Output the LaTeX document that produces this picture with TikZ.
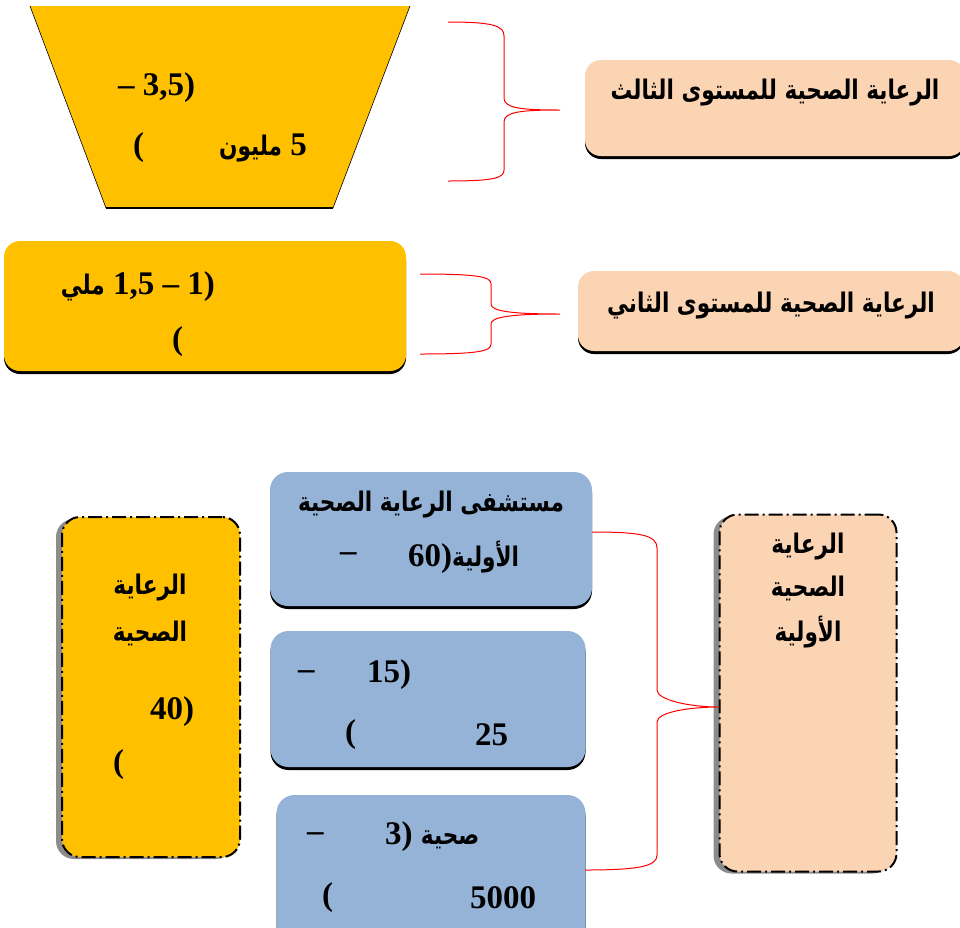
\documentclass[tikz,border=0pt]{standalone}
\usepackage{fontspec}
\setmainfont{Liberation Serif}
\newfontfamily\arabicfont[Script=Arabic, FakeStretch=0.8]{DejaVu Sans}
\TeXXeTstate=1
\usetikzlibrary{shadows}

\definecolor{ambar}{HTML}{FFC000}
\definecolor{peach}{HTML}{FBD4B4}
\definecolor{steel}{HTML}{95B3D7}

\newcommand{\ar}[1]{{\fontsize{27}{32}\selectfont\arabicfont\bfseries\beginR #1\endR}}

\tikzset{
  txt/.style={inner sep=0pt, font=\fontsize{33}{38}\selectfont\bfseries},
  head/.style={inner sep=0pt},
  levelbox/.style={rectangle, rounded corners=16pt, fill=peach, inner sep=0pt,
    drop shadow={shadow xshift=0pt, shadow yshift=-3pt, opacity=1, fill=black}},
  yellowbox/.style={rectangle, rounded corners=16pt, fill=ambar, inner sep=0pt,
    drop shadow={shadow xshift=0pt, shadow yshift=-3pt, opacity=1, fill=black}},
  bluebox/.style={rectangle, rounded corners=18pt, fill=steel, inner sep=0pt,
    drop shadow={shadow xshift=0pt, shadow yshift=-3pt, opacity=1, fill=black}},
  dashbox/.style={rectangle, rounded corners=18pt, draw=black, line width=2pt,
    dash pattern=on 14pt off 4pt on 2pt off 4pt, inner sep=0pt,
    drop shadow={shadow xshift=-6pt, shadow yshift=-2pt, opacity=1, fill=black!45}},
  brace/.style={draw=red, line width=1pt}
}

\begin{document}
\begin{tikzpicture}[x=1pt, y=-1pt]
\useasboundingbox (0,0) rectangle (960,927);

% top level: funnel and brace
\fill[ambar] (30,6) -- (410,6) -- (333,208) -- (106,208) -- cycle;
\draw[line width=0.6pt] (30,6) -- (106,208);
\draw[line width=0.6pt] (410,6) -- (333,208);
\draw[line width=2.5pt] (106,208) -- (333,208);
\node (trapA) at (118,88) [txt, anchor=west] {– 3,5)};
\node (trapB) at (133,148) [txt, anchor=west] {(};
\node (trapC) at (307,148) [txt, anchor=east] {\ar{مليون} 5};

\node (third) at (775,108) [levelbox, minimum width=380pt, minimum height=96pt] {};
\node (thirdtxt) at (775,93) [head] {\ar{الرعاية الصحية للمستوى الثالث}};

\coordinate (b1s) at (448,22);
\coordinate (b1t) at (560,110);
\coordinate (b1e) at (448,181);
\draw[brace] (b1s) .. controls (494,22) and (504,26) .. (504,36) -- (504,98)
  .. controls (504,108) and (520,110) .. (b1t)
  .. controls (520,110) and (504,112) .. (504,122) -- (504,170)
  .. controls (504,178) and (494,181) .. (b1e);

% second level
\node (second) at (205,306) [yellowbox, minimum width=402pt, minimum height=130pt] {};
\node (secA) at (215,287) [txt, anchor=east] {\ar{ملي} 1,5 – 1)};
\node (secB) at (172,342) [txt, anchor=west] {(};

\node (lvltwo) at (771,311) [levelbox, minimum width=386pt, minimum height=80pt] {};
\node (lvltwotxt) at (771,306) [head] {\ar{الرعاية الصحية للمستوى الثاني}};

\coordinate (b2s) at (420,274);
\coordinate (b2t) at (560,314);
\coordinate (b2e) at (420,354);
\draw[brace] (b2s) .. controls (480,274) and (491,277) .. (491,284) -- (491,304)
  .. controls (491,311) and (510,314) .. (b2t)
  .. controls (510,314) and (491,317) .. (491,324) -- (491,344)
  .. controls (491,351) and (480,354) .. (b2e);

% first level
\node (rest) at (151,687) [dashbox, fill=ambar, minimum width=178pt, minimum height=340pt] {};
\node (restA) at (150,588) [txt] {\ar{الرعاية}};
\node (restB) at (150,633) [txt] {\ar{الصحية}};
\node (restC) at (150,712) [txt, anchor=west] {40)};
\node (restD) at (113,765) [txt, anchor=west] {(};

\node (hosp) at (431,539) [bluebox, minimum width=322pt, minimum height=134pt] {};
\node (hospA) at (431,505) [txt] {\ar{مستشفى الرعاية الصحية}};
\node (hospB) at (340,557) [txt, anchor=west] {–};
\node (hospC) at (408,557) [txt, anchor=west] {60)\ar{الأولية}};

\node (cent) at (428,699) [bluebox, minimum width=315pt, minimum height=136pt] {};
\node (centA) at (298,675) [txt, anchor=west] {–};
\node (centB) at (367,675) [txt, anchor=west] {15)};
\node (centC) at (345,735) [txt, anchor=west] {(};
\node (centD) at (475,735) [txt, anchor=west] {25};

\node (unit) at (431,870) [bluebox, minimum width=309pt, minimum height=150pt] {};
\node (unitA) at (307,837) [txt, anchor=west] {–};
\node (unitB) at (385,837) [txt, anchor=west] {3) \ar{صحية}};
\node (unitC) at (322,898) [txt, anchor=west] {(};
\node (unitD) at (470,898) [txt, anchor=west] {5000};

\node (first) at (808,693) [dashbox, fill=peach, minimum width=177pt, minimum height=357pt] {};
\node (firstA) at (808,547) [txt] {\ar{الرعاية}};
\node (firstB) at (808,588) [txt] {\ar{الصحية}};
\node (firstC) at (808,632) [txt] {\ar{الأولية}};

\coordinate (b3s) at (hosp.east |- 0,532);
\coordinate (b3t) at (first.west |- 0,707);
\coordinate (b3e) at (585,870);
\draw[brace] (b3s) .. controls (640,532) and (657,535) .. (657,548) -- (657,690)
  .. controls (657,700) and (690,707) .. (b3t)
  .. controls (690,707) and (657,712) .. (657,722) -- (657,855)
  .. controls (657,866) and (640,870) .. (b3e);

\end{tikzpicture}
\end{document}
